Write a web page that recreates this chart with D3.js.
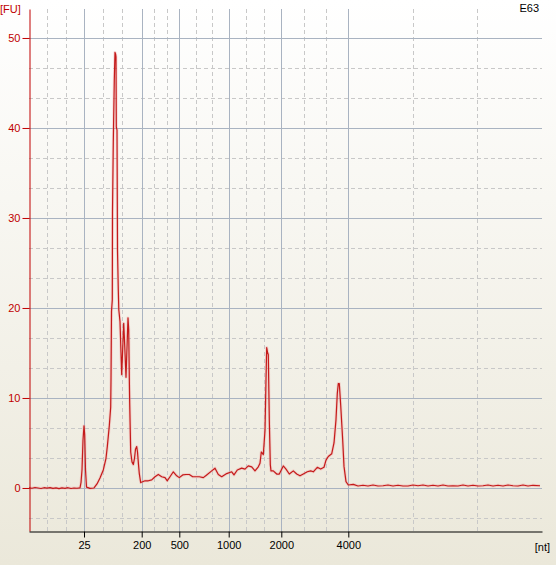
<!DOCTYPE html>
<html>
<head>
<meta charset="utf-8">
<script src="https://cdn.jsdelivr.net/npm/d3@7"></script>
<style>
  html, body { margin: 0; padding: 0; }
  body { width: 556px; height: 565px; overflow: hidden; }
  svg text { font-family: Tahoma, "Liberation Sans", Arial, sans-serif; font-size: 11px; }
</style>
</head>
<body>
<div id="chart"></div>
<script>
// sample name shown top right
const sampleName = "E63";

// ladder peaks: size in nt and migration time (s) where they land
const ladderSizes = [25, 200, 500, 1000, 2000, 4000];
const ladderTimes = [25.5, 31.27, 35.03, 39.97, 45.23, 51.93];

const yTicks = [0, 10, 20, 30, 40, 50];

// electropherogram trace: [migration time (s), fluorescence (FU)]
const trace = [
  [20.0, 0.02], [20.3, -0.03], [20.6, 0.05], [20.9, 0.0], [21.2, -0.06], [21.5, 0.03],
  [21.8, -0.02], [22.1, 0.04], [22.4, -0.05], [22.7, 0.01], [23.0, -0.07], [23.3, 0.02],
  [23.6, -0.04], [23.9, 0.03], [24.2, -0.06], [24.5, 0.0], [24.8, -0.03], [25.1, 0.02],
  [25.2, 0.6], [25.3, 2.0], [25.4, 5.3], [25.5, 6.9], [25.57, 5.9], [25.65, 2.0],
  [25.75, 0.1], [26.1, -0.05], [26.5, 0.0], [26.8, 0.45], [27.1, 1.1], [27.43, 2.0],
  [27.7, 3.3], [27.83, 4.6], [28.03, 6.9], [28.17, 9.0], [28.2, 12.0], [28.25, 19.6],
  [28.33, 20.9], [28.35, 30.6], [28.43, 38.5], [28.53, 45.3], [28.6, 48.4], [28.66, 48.2],
  [28.7, 47.9], [28.73, 40.1], [28.8, 39.8], [28.85, 26.4], [28.93, 22.0], [28.98, 19.8],
  [29.1, 18.5], [29.27, 12.6], [29.47, 18.3], [29.55, 16.4], [29.7, 12.3], [29.9, 18.9],
  [29.97, 17.6], [30.03, 12.3], [30.07, 9.4], [30.17, 4.0], [30.3, 2.9], [30.43, 2.6],
  [30.55, 3.3], [30.65, 4.3], [30.77, 4.6], [30.85, 4.0], [30.95, 2.6], [31.03, 1.6],
  [31.17, 0.6], [31.3, 0.67], [31.6, 0.8], [31.93, 0.8], [32.27, 0.9], [32.6, 1.25],
  [32.93, 1.5], [33.27, 1.25], [33.6, 1.15], [33.83, 0.8], [34.1, 1.25], [34.43, 1.8],
  [34.77, 1.35], [35.03, 1.15], [35.37, 1.45], [35.7, 1.5], [36.03, 1.5], [36.37, 1.25],
  [36.7, 1.25], [37.03, 1.25], [37.43, 1.15], [37.77, 1.45], [38.27, 1.9], [38.6, 2.2],
  [38.93, 1.5], [39.27, 1.25], [39.77, 1.6], [40.27, 1.8], [40.5, 1.45], [40.83, 2.0],
  [41.27, 2.2], [41.6, 2.1], [41.93, 2.45], [42.27, 2.35], [42.6, 1.9], [42.93, 2.35],
  [43.1, 2.75], [43.23, 4.0], [43.43, 3.7], [43.6, 6.4], [43.7, 12.0], [43.77, 15.6],
  [43.85, 15.1], [43.93, 14.8], [44.03, 7.6], [44.13, 2.6], [44.2, 1.9], [44.43, 1.9],
  [44.77, 1.55], [45.03, 1.55], [45.43, 2.45], [45.7, 2.1], [46.03, 1.55], [46.43, 1.9],
  [46.77, 1.55], [47.1, 1.35], [47.43, 1.55], [47.83, 1.8], [48.17, 1.9], [48.43, 1.8],
  [48.83, 2.3], [49.17, 2.1], [49.5, 2.3], [49.7, 3.1], [49.93, 3.5], [50.27, 3.8],
  [50.5, 5.0], [50.7, 7.6], [50.83, 10.5], [50.93, 11.6], [51.03, 11.6], [51.17, 9.2],
  [51.37, 5.3], [51.5, 2.4], [51.7, 0.7], [51.93, 0.33], [52.43, 0.4], [52.9, 0.22],
  [53.4, 0.3], [53.9, 0.22], [54.4, 0.33], [54.9, 0.22], [55.4, 0.25], [55.9, 0.33],
  [56.4, 0.22], [56.9, 0.3], [57.4, 0.22], [57.9, 0.22], [58.4, 0.33], [58.9, 0.25],
  [59.4, 0.33], [59.9, 0.22], [60.4, 0.3], [60.9, 0.22], [61.4, 0.33], [61.9, 0.22],
  [62.4, 0.25], [62.9, 0.22], [63.4, 0.33], [63.9, 0.22], [64.4, 0.3], [64.9, 0.22],
  [65.4, 0.25], [65.9, 0.33], [66.4, 0.22], [66.9, 0.3], [67.4, 0.22], [67.9, 0.33],
  [68.4, 0.25], [68.9, 0.22], [69.4, 0.33], [69.9, 0.22], [70.4, 0.3], [71.1, 0.25]
];

const width = 556;
const height = 565;
const plot = { left: 29, right: 542, top: 9, bottom: 531 };

const svg = d3.select("#chart")
  .append("svg")
  .attr("width", width)
  .attr("height", height);

// background gradient, white at the top to beige at the bottom
const defs = svg.append("defs");
const grad = defs.append("linearGradient")
  .attr("id", "bg")
  .attr("x1", 0).attr("y1", 0).attr("x2", 0).attr("y2", 1);
grad.append("stop").attr("offset", "0%").attr("stop-color", "#ffffff");
grad.append("stop").attr("offset", "100%").attr("stop-color", "#ebe8da");

svg.append("rect")
  .attr("width", width)
  .attr("height", height)
  .attr("fill", "url(#bg)");

const xScale = d3.scaleLinear()
  .domain([20, 71.3])
  .range([plot.left, plot.right]);

const yScale = d3.scaleLinear()
  .domain([-4.78, 53.22])
  .range([plot.bottom, plot.top]);

// grid: solid at ladder sizes / major FU, dashed at thirds in between
const xBounds = [xScale.domain()[0], ...ladderTimes, xScale.domain()[1]];
const xMinor = [];
for (let i = 0; i < xBounds.length - 1; i++) {
  const a = xBounds[i], b = xBounds[i + 1];
  xMinor.push(a + (b - a) / 3, a + 2 * (b - a) / 3);
}
const yMinor = [];
for (let k = -1; k <= 15; k++) {
  const v = k * 10 / 3;
  if (k % 3 !== 0 && v >= yScale.domain()[0] && v <= yScale.domain()[1]) yMinor.push(v);
}

const grid = svg.append("g");

grid.selectAll(".xminor")
  .data(xMinor)
  .enter()
  .append("line")
  .attr("x1", d => Math.round(xScale(d)) + 0.5)
  .attr("x2", d => Math.round(xScale(d)) + 0.5)
  .attr("y1", plot.top)
  .attr("y2", plot.bottom)
  .attr("stroke", "#c8c8c8")
  .attr("stroke-dasharray", "4,3");

grid.selectAll(".yminor")
  .data(yMinor)
  .enter()
  .append("line")
  .attr("x1", plot.left)
  .attr("x2", plot.right)
  .attr("y1", d => Math.round(yScale(d)) + 0.5)
  .attr("y2", d => Math.round(yScale(d)) + 0.5)
  .attr("stroke", "#c8c8c8")
  .attr("stroke-dasharray", "4,3");

grid.selectAll(".xmajor")
  .data(ladderTimes)
  .enter()
  .append("line")
  .attr("x1", d => Math.round(xScale(d)) + 0.5)
  .attr("x2", d => Math.round(xScale(d)) + 0.5)
  .attr("y1", plot.top)
  .attr("y2", plot.bottom)
  .attr("stroke", "#a9b3c1");

grid.selectAll(".ymajor")
  .data(yTicks)
  .enter()
  .append("line")
  .attr("x1", plot.left)
  .attr("x2", plot.right)
  .attr("y1", d => Math.round(yScale(d)) + 0.5)
  .attr("y2", d => Math.round(yScale(d)) + 0.5)
  .attr("stroke", "#a9b3c1");

// trace, with a faint halo under it
const line = d3.line()
  .x(d => xScale(d[0]))
  .y(d => yScale(d[1]));

svg.append("path")
  .datum(trace)
  .attr("d", line)
  .attr("fill", "none")
  .attr("stroke", "#f29a9a")
  .attr("stroke-width", 3)
  .attr("stroke-opacity", 0.35)
  .attr("stroke-linejoin", "round");

svg.append("path")
  .datum(trace)
  .attr("d", line)
  .attr("fill", "none")
  .attr("stroke", "#c41a1a")
  .attr("stroke-width", 1.2)
  .attr("stroke-linejoin", "round");

// axes
const yAxis = svg.append("g")
  .attr("transform", `translate(${plot.left + 0.5}, 0)`)
  .call(d3.axisLeft(yScale).tickValues(yTicks).tickSize(7).tickSizeOuter(0).tickPadding(2));
yAxis.select(".domain").attr("stroke", "#c00000");
yAxis.selectAll(".tick line").attr("stroke", "#c00000");
yAxis.selectAll(".tick text")
  .attr("fill", "#c00000")
  .style("font-family", "Tahoma, 'Liberation Sans', Arial, sans-serif")
  .style("font-size", "11px");

const xAxis = svg.append("g")
  .attr("transform", `translate(0, ${plot.bottom + 0.5})`)
  .call(d3.axisBottom(xScale)
    .tickValues(ladderTimes)
    .tickFormat((d, i) => ladderSizes[i])
    .tickSize(6)
    .tickSizeOuter(0)
    .tickPadding(4));
xAxis.select(".domain").attr("stroke", "#000");
xAxis.selectAll(".tick line").attr("stroke", "#000");
xAxis.selectAll(".tick text")
  .attr("fill", "#000")
  .style("font-family", "Tahoma, 'Liberation Sans', Arial, sans-serif")
  .style("font-size", "11px");

// unit labels
svg.append("text")
  .attr("x", 0)
  .attr("y", 13)
  .attr("fill", "#c00000")
  .text("[FU]");

svg.append("text")
  .attr("x", 550)
  .attr("y", 551)
  .attr("text-anchor", "end")
  .attr("fill", "#000")
  .text("[nt]");

svg.append("text")
  .attr("x", 539)
  .attr("y", 12)
  .attr("text-anchor", "end")
  .attr("fill", "#000")
  .text(sampleName);
</script>
</body>
</html>
